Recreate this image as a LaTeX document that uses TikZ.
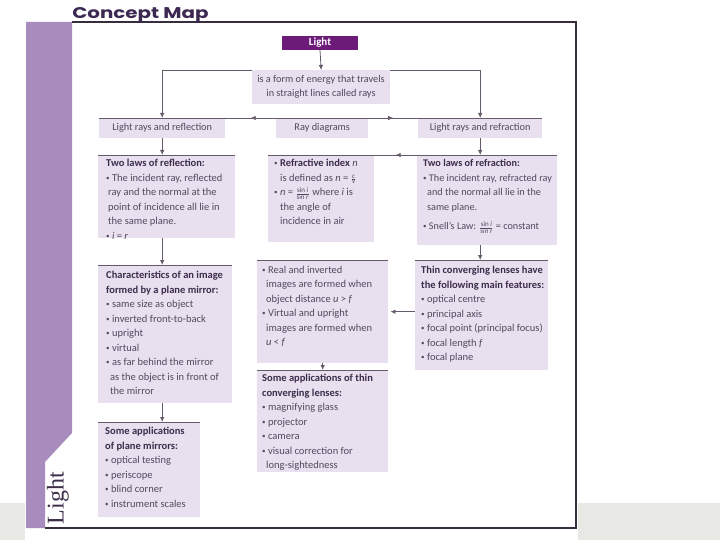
\documentclass[tikz,border=0pt]{standalone}
\usepackage{amsmath}
\usepackage{fontspec}
\setmainfont{Carlito}
\newfontfamily\titlefont{Poppins}
\newfontfamily\serifont{Liberation Serif}
\usetikzlibrary{arrows.meta,decorations.markings,calc}
\definecolor{stripcol}{RGB}{168,140,190}
\definecolor{boxfill}{RGB}{232,223,239}
\definecolor{lightbox}{RGB}{108,28,120}
\definecolor{linecol}{RGB}{100,90,105}
\definecolor{txtcol}{RGB}{85,72,95}
\definecolor{headcol}{RGB}{60,45,75}
\definecolor{titlecol}{RGB}{60,40,80}
\definecolor{framecol}{RGB}{55,45,60}
\definecolor{graybg}{RGB}{232,232,228}
\begin{document}
\begin{tikzpicture}[x=1pt,y=-1pt]
\tikzset{
  boxbg/.style={fill=boxfill, draw=none, inner sep=0pt, anchor=north west},
  txt/.style={anchor=north west, inner sep=0pt, align=left, text=txtcol, font=\fontsize{10.5}{14.5}\selectfont},
  ctxt/.style={inner sep=0pt, align=center, text=txtcol, font=\fontsize{10.3}{14}\selectfont},
  conn/.style={draw=linecol, line width=0.8pt},
  tip/.style={-{Latex[length=5pt,width=4.5pt]}},
  midarrow/.style={postaction={decorate},decoration={markings,mark=at position 0.5 with {\arrow{Latex[length=5pt,width=4.5pt]}}}}
}
\newcommand{\hd}[1]{\textcolor{headcol}{\textbf{#1}}}
\newcommand{\bul}{\raisebox{0.2ex}{\fontsize{7}{7}\selectfont\textbullet}\ }
\newcommand{\fr}[2]{$\genfrac{}{}{0.4pt}{2}{\mbox{\fontsize{7}{7}\selectfont #1}}{\mbox{\fontsize{7}{7}\selectfont #2}}$}
\useasboundingbox (0,0) rectangle (720,540);
\fill[white] (0,0) rectangle (720,540);
% gray band
\fill[graybg] (0,503) rectangle (25,540);
\fill[graybg] (578,503) rectangle (720,540);
% purple strip
\fill[stripcol] (26,22) -- (72,22) -- (72,433) -- (45,462) -- (45,528) -- (26,528) -- cycle;
% frame
\draw[framecol, line width=1.2pt] (72,22) -- (576.5,22);
\draw[framecol, line width=2.6pt] (576,22) -- (576,528) -- (45,528);
% title
\node[anchor=base west, inner sep=0pt, text=titlecol, font=\titlefont\bfseries\fontsize{15.5}{18}\selectfont, xscale=1.28] (title) at (72,18.5) {Concept Map};
\node[rotate=90, inner sep=0pt, text=headcol, font=\serifont\fontsize{24}{26}\selectfont] (side) at (58,498) {Light};

% boxes
\node[fill=lightbox, inner sep=0pt, minimum width=76pt, minimum height=14pt, text=white, font=\bfseries\fontsize{11}{12}\selectfont] (light) at (320,43) {Light};
\node[boxbg, minimum width=138pt, minimum height=34pt] (energy) at (252,70) {};
\node[ctxt] (energyt) at (321,87) {is a form of energy that travels\\in straight lines called rays};

\node[boxbg, minimum width=126pt, minimum height=20pt] (lrr) at (99,118) {};
\node[ctxt] (lrrt) at (lrr.center) {Light rays and reflection};
\node[boxbg, minimum width=92pt, minimum height=20pt] (rd) at (276,118) {};
\node[ctxt] (rdt) at (rd.center) {Ray diagrams};
\node[boxbg, minimum width=124pt, minimum height=20pt] (lrf) at (418,118) {};
\node[ctxt] (lrft) at (lrf.center) {Light rays and refraction};

\node[boxbg, minimum width=137pt, minimum height=83pt] (refl2) at (98,155) {};
\node[txt] (refl2t) at (106,159) {\hd{Two laws of reflection:}\\
\bul The incident ray, reflected\\
\hspace*{2pt}ray and the normal at the\\
\hspace*{2pt}point of incidence all lie in\\
\hspace*{2pt}the same plane.\\
\bul \textit{i} = \textit{r}};

\node[boxbg, minimum width=106pt, minimum height=87pt] (ridx) at (268,155) {};
\node[txt] (ridxt) at (274,159) {\bul\hd{Refractive index} \textit{n}\\
\hspace*{6pt}is defined as \textit{n} = \fr{\textit{c}}{\textit{v}}\\
\bul \textit{n} = \fr{sin \textit{i}}{sin \textit{r}} where \textit{i} is\\
\hspace*{6pt}the angle of\\
\hspace*{6pt}incidence in air};

\node[boxbg, minimum width=140pt, minimum height=90pt] (refr2) at (417,155) {};
\node[txt, font=\fontsize{10.2}{14.8}\selectfont] (refr2t) at (423,159) {\hd{Two laws of refraction:}\\
\bul The incident ray, refracted ray\\
\hspace*{4pt}and the normal all lie in the\\
\hspace*{4pt}same plane.\\[4pt]
\bul Snell's Law: \fr{sin \textit{i}}{sin \textit{r}} = constant};

\node[boxbg, minimum width=134pt, minimum height=138pt] (char) at (98,265) {};
\node[txt] (chart) at (106,271) {\hd{Characteristics of an image}\\
\hd{formed by a plane mirror:}\\
\bul same size as object\\
\bul inverted front-to-back\\
\bul upright\\
\bul virtual\\
\bul as far behind the mirror\\
\hspace*{4pt}as the object is in front of\\
\hspace*{4pt}the mirror};

\node[boxbg, minimum width=131pt, minimum height=103pt] (real) at (257,260) {};
\node[txt] (realt) at (262,266) {\bul Real and inverted\\
\hspace*{4pt}images are formed when\\
\hspace*{4pt}object distance \textit{u} {\textgreater} \textit{f}\\
\bul Virtual and upright\\
\hspace*{4pt}images are formed when\\
\hspace*{4pt}\textit{u} {\textless} \textit{f}};

\node[boxbg, minimum width=133pt, minimum height=110pt] (thin) at (415,260) {};
\node[txt] (thint) at (421,266) {\hd{Thin converging lenses have}\\
\hd{the following main features:}\\
\bul optical centre\\
\bul principal axis\\
\bul focal point (principal focus)\\
\bul focal length \textit{f}\\
\bul focal plane};

\node[boxbg, minimum width=131pt, minimum height=102pt] (lensapp) at (257,370) {};
\node[txt] (lensappt) at (262,374) {\hd{Some applications of thin}\\
\hd{converging lenses:}\\
\bul magnifying glass\\
\bul projector\\
\bul camera\\
\bul visual correction for\\
\hspace*{4pt}long-sightedness};

\node[boxbg, minimum width=102pt, minimum height=95pt] (mirrorapp) at (98,422) {};
\node[txt] (mirrorappt) at (105,427) {\hd{Some applications}\\
\hd{of plane mirrors:}\\
\bul optical testing\\
\bul periscope\\
\bul blind corner\\
\bul instrument scales};

% top edges
\foreach \b in {lrr,rd,lrf,refl2,ridx,refr2,char,real,thin,lensapp,mirrorapp}
  \draw[conn] (\b.north west) -- (\b.north east);

% connectors
\draw[conn,tip] (light.south) -- (energy.north);
\draw[conn,tip] (energy.north west) -| (lrr.north);
\draw[conn,tip] (energy.north east) -| (lrf.north);
\draw[conn,midarrow] (rd.north west) -- (lrr.north east);
\draw[conn,midarrow] (rd.north east) -- (lrf.north west);
\draw[conn,tip] (lrr.south) -- (lrr.south |- refl2.north);
\draw[conn,tip] (lrf.south) -- (lrf.south |- refr2.north);
\draw[conn,midarrow] (refr2.north west) -- (ridx.north east);
\draw[conn,tip] (refl2.south -| lrr.south) -- (lrr.south |- char.north);
\draw[conn,tip] (refr2.south -| lrf.south) -- (lrf.south |- thin.north);
\draw[conn,tip] (thin.west |- real.east) -- ([xshift=2pt]real.east);
\draw[conn,tip] (real.south) -- (lensapp.north);
\draw[conn,tip] (char.south -| lrr.south) -- (lrr.south |- mirrorapp.north);
\end{tikzpicture}
\end{document}
